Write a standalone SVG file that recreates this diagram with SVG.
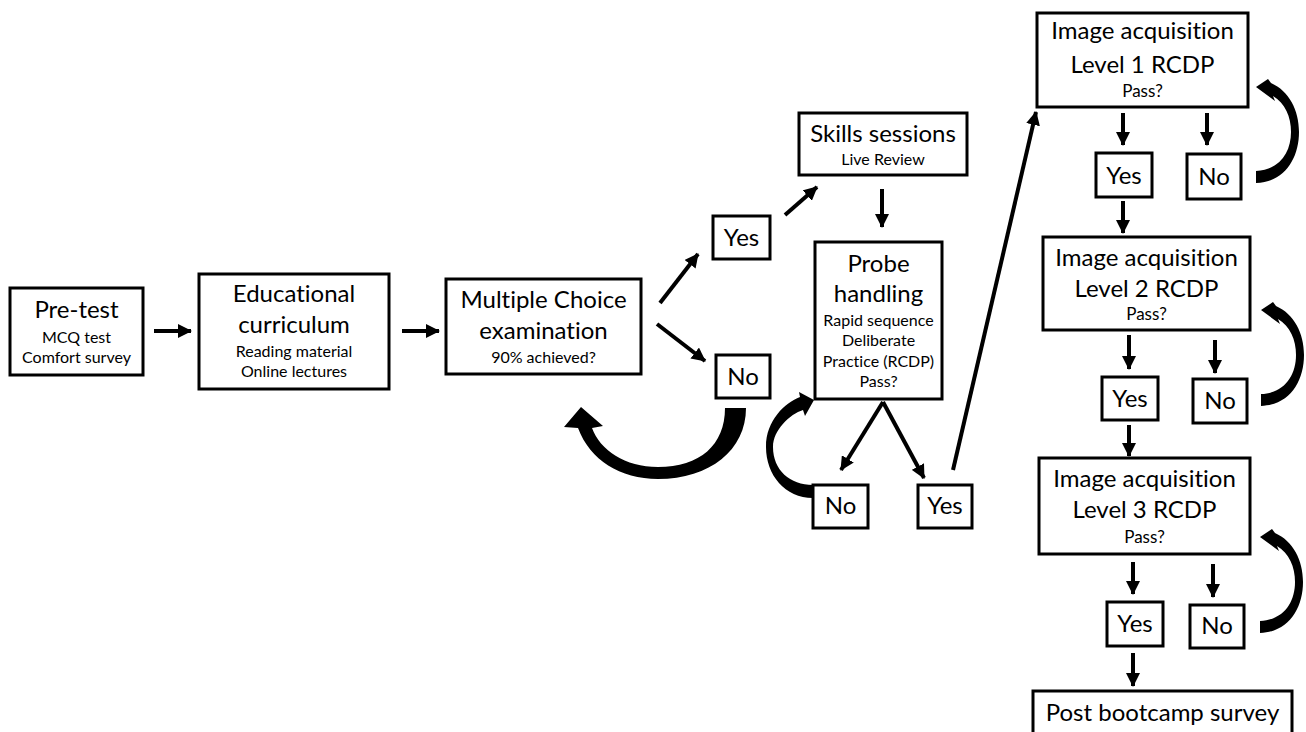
<svg xmlns="http://www.w3.org/2000/svg" width="1306" height="732" viewBox="0 0 1306 732">
<style>
.box{fill:#fff;stroke:#000;stroke-width:3}
text{font-family:Lato,"Liberation Sans",sans-serif;fill:#000;text-anchor:middle;font-variant-ligatures:none}
.big{font-size:24px}
.sm{font-size:16px}
.xs{font-size:17px}
.ln{stroke:#000;stroke-width:4;fill:none;marker-end:url(#ah)}
.crv{fill:#000;stroke:none}
</style>
<defs>
<marker id="ah" markerUnits="userSpaceOnUse" markerWidth="14" markerHeight="14" refX="13" refY="7" orient="auto" viewBox="0 0 14 14">
<path d="M0,0 L14,7 L0,14 Z" fill="#000"/>
</marker>
</defs>
<rect width="1306" height="732" fill="#fff"/>
<g id="connectors">
<line class="ln" x1="154" y1="331" x2="191" y2="331"/>
<line class="ln" x1="402" y1="331" x2="439" y2="331"/>
<line class="ln" x1="660" y1="303" x2="698" y2="254"/>
<line class="ln" x1="657" y1="324" x2="705" y2="361"/>
<line class="ln" x1="785" y1="215" x2="817" y2="187"/>
<line class="ln" x1="882" y1="189" x2="882" y2="227"/>
<line class="ln" x1="883" y1="402" x2="841" y2="470"/>
<line class="ln" x1="883" y1="402" x2="924" y2="478"/>
<line class="ln" x1="953" y1="470" x2="1036" y2="112"/>
<line class="ln" x1="1123" y1="113" x2="1123" y2="145"/>
<line class="ln" x1="1207" y1="113" x2="1207" y2="145"/>
<line class="ln" x1="1123" y1="201" x2="1123" y2="233"/>
<line class="ln" x1="1129" y1="335" x2="1129" y2="369"/>
<line class="ln" x1="1215" y1="340" x2="1215" y2="373"/>
<line class="ln" x1="1129" y1="425" x2="1129" y2="456"/>
<line class="ln" x1="1133" y1="562" x2="1133" y2="594"/>
<line class="ln" x1="1213" y1="564" x2="1213" y2="597"/>
<line class="ln" x1="1133" y1="653" x2="1133" y2="686"/>
<path class="crv" d="M746,408 C746,450 710,479 658,479 C620,479 590,460 578,428 L564,427 L581,407 L603,426 L592,428 C600,450 625,467 658,467 C700,467 725,445 725,408 Z"/>
<path class="crv" d="M813,498 C785,498 766,475 766,447 C766,420 785,403 800,397 L799,392 L814,400 L805,416 L803,410 C790,414 773,430 773,447 C773,470 790,485 813,485 Z"/>
<path id="loop1" class="crv" d="M1256,183 C1285,182 1299,158 1299,132 C1299,110 1289,91 1271,83 L1268,79 L1256,87 L1275,101 L1273,96 C1285,103 1291,117 1291,132 C1291,152 1280,170 1256,171 Z"/>
<use href="#loop1" transform="translate(5,223)"/>
<use href="#loop1" transform="translate(4,450)"/>
</g>
<g id="pretest">
<rect class="box" x="10" y="288" width="133" height="87"/>
<text class="big" x="76.5" y="318">Pre-test</text>
<text class="sm" x="76.5" y="343">MCQ test</text>
<text class="sm" x="76.5" y="363">Comfort survey</text>
</g>
<g id="curriculum">
<rect class="box" x="199" y="274" width="190" height="115"/>
<text class="big" x="294" y="302">Educational</text>
<text class="big" x="294" y="333">curriculum</text>
<text class="sm" x="294" y="357">Reading material</text>
<text class="sm" x="294" y="377">Online lectures</text>
</g>
<g id="mcq">
<rect class="box" x="446" y="279" width="195" height="95"/>
<text class="big" x="543.5" y="308">Multiple Choice</text>
<text class="big" x="543.5" y="339">examination</text>
<text class="sm" x="543.5" y="363">90% achieved?</text>
</g>
<g id="mcq-yes">
<rect class="box" x="713" y="216" width="57" height="43"/>
<text class="big" x="741.5" y="246">Yes</text>
</g>
<g id="mcq-no">
<rect class="box" x="716" y="355" width="54" height="43"/>
<text class="big" x="743" y="385">No</text>
</g>
<g id="skills">
<rect class="box" x="799" y="113" width="168" height="62"/>
<text class="big" x="883" y="142">Skills sessions</text>
<text class="sm" x="883" y="165">Live Review</text>
</g>
<g id="probe">
<rect class="box" x="815" y="242" width="127" height="157"/>
<text class="big" x="878.5" y="272">Probe</text>
<text class="big" x="878.5" y="302">handling</text>
<text class="sm" x="878.5" y="326">Rapid sequence</text>
<text class="sm" x="878.5" y="346">Deliberate</text>
<text class="sm" x="878.5" y="367">Practice (RCDP)</text>
<text class="sm" x="878.5" y="387">Pass?</text>
</g>
<g id="probe-no">
<rect class="box" x="813" y="485" width="55" height="43"/>
<text class="big" x="840.5" y="514">No</text>
</g>
<g id="probe-yes">
<rect class="box" x="918" y="485" width="54" height="43"/>
<text class="big" x="945" y="514">Yes</text>
</g>
<g id="level1">
<rect class="box" x="1037" y="13" width="211" height="94"/>
<text class="big" x="1142.5" y="39">Image acquisition</text>
<text class="big" x="1142.5" y="73">Level 1 RCDP</text>
<text class="xs" x="1142.5" y="97">Pass?</text>
</g>
<g id="level1-yes">
<rect class="box" x="1096" y="153" width="56" height="44"/>
<text class="big" x="1124" y="184">Yes</text>
</g>
<g id="level1-no">
<rect class="box" x="1187" y="154" width="54" height="45"/>
<text class="big" x="1214" y="185">No</text>
</g>
<g id="level2">
<rect class="box" x="1043" y="237" width="207" height="93"/>
<text class="big" x="1146.5" y="266">Image acquisition</text>
<text class="big" x="1146.5" y="297">Level 2 RCDP</text>
<text class="xs" x="1146.5" y="320">Pass?</text>
</g>
<g id="level2-yes">
<rect class="box" x="1102" y="377" width="56" height="43"/>
<text class="big" x="1130" y="407">Yes</text>
</g>
<g id="level2-no">
<rect class="box" x="1193" y="379" width="54" height="44"/>
<text class="big" x="1220" y="409">No</text>
</g>
<g id="level3">
<rect class="box" x="1039" y="458" width="211" height="96"/>
<text class="big" x="1144.5" y="487">Image acquisition</text>
<text class="big" x="1144.5" y="518">Level 3 RCDP</text>
<text class="xs" x="1144.5" y="543">Pass?</text>
</g>
<g id="level3-yes">
<rect class="box" x="1107" y="602" width="56" height="44"/>
<text class="big" x="1135" y="632">Yes</text>
</g>
<g id="level3-no">
<rect class="box" x="1190" y="605" width="54" height="43"/>
<text class="big" x="1217" y="634">No</text>
</g>
<g id="post">
<rect class="box" x="1033" y="691" width="259" height="50"/>
<text class="big" x="1162.5" y="721">Post bootcamp survey</text>
</g>
</svg>
